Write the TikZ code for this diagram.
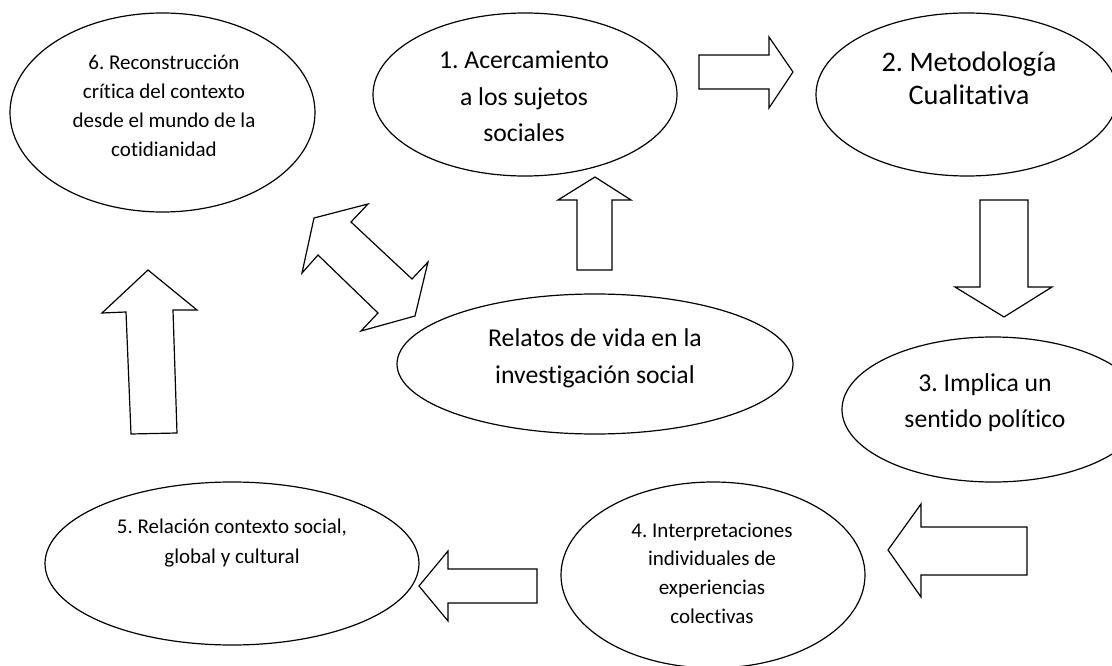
\documentclass[tikz,border=0pt]{standalone}
\usepackage{fontspec}
\setmainfont{Carlito}[Ligatures=NoCommon]
\usetikzlibrary{shapes.geometric}
\frenchspacing
\newcommand{\lines}[1]{\begin{tabular}[t]{@{}c@{}}#1\end{tabular}}
\begin{document}
\begin{tikzpicture}[x=1pt,y=-1pt,
  bubble/.style={draw, ellipse, line width=1.2pt, inner sep=0pt, outer sep=0pt},
  blockarrow/.style={draw, line width=1.2pt, line join=miter, fill=white},
  smalltxt/.style={anchor=base, inner sep=0pt, font=\fontsize{21}{29}\selectfont},
  bigtxt/.style={anchor=base, inner sep=0pt, font=\fontsize{25.7}{36.5}\selectfont},
  hugetxt/.style={anchor=base, inner sep=0pt, font=\fontsize{28.3}{33}\selectfont}]
\clip (0,0) rectangle (1112,666);
\fill[white] (0,0) rectangle (1112,666);

% ellipses
\node[bubble, minimum width=305pt, minimum height=199pt] (e6) at (162.5,112.5) {};
\node[bubble, minimum width=304pt, minimum height=163pt] (e1) at (525,94.5) {};
\node[bubble, minimum width=302pt, minimum height=163pt] (e2) at (967,94.5) {};
\node[bubble, minimum width=302pt, minimum height=145pt] (e3) at (993,409.5) {};
\node[bubble, minimum width=396pt, minimum height=140pt] (er) at (595,364) {};
\node[bubble, minimum width=304pt, minimum height=186pt] (e4) at (713,575) {};
\node[bubble, minimum width=374pt, minimum height=163pt] (e5) at (232,563.5) {};

% texts
\node[smalltxt] (t6) at (164,70) {\lines{6. Reconstrucción\\crítica del contexto\\desde el mundo de la\\cotidianidad}};
\node[bigtxt] (t1) at (524,69) {\lines{1. Acercamiento\\a los sujetos\\sociales}};
\node[hugetxt] (t2) at (969,72) {\lines{2. Metodología\\Cualitativa}};
\node[bigtxt, font=\fontsize{25.7}{36}\selectfont] (t3) at (985,391) {\lines{3. Implica un\\sentido político}};
\node[bigtxt, font=\fontsize{25.7}{37}\selectfont] (tr) at (595,346) {\lines{Relatos de vida en la\\investigación social}};
\node[smalltxt, font=\fontsize{21}{28.7}\selectfont] (t4) at (712,537) {\lines{4. Interpretaciones\\individuales de\\experiencias\\colectivas}};
\node[smalltxt, font=\fontsize{21}{30}\selectfont] (t5) at (232,533) {\lines{5. Relación contexto social,\\global y cultural}};

% block arrows
\draw[blockarrow] (699,55) -- (769,55) -- (769,37) -- (793,72) -- (769,108) -- (769,89) -- (699,89) -- cycle;
\draw[blockarrow] (980,200) -- (1028,200) -- (1028,287) -- (1052,287) -- (1004,317) -- (955,287) -- (980,287) -- cycle;
\draw[blockarrow] (1027,527) -- (921,527) -- (921,504) -- (888,550) -- (921,597) -- (921,575) -- (1027,575) -- cycle;
\draw[blockarrow] (537,569) -- (448,569) -- (448,551) -- (419,586) -- (448,621) -- (448,603) -- (537,603) -- cycle;
\draw[blockarrow] (131,434) -- (126,312) -- (102,313) -- (148,270) -- (197,310) -- (173,310) -- (177,433) -- cycle;
\draw[blockarrow] (577,270) -- (577,200) -- (558,200) -- (595,177) -- (631,200) -- (612,200) -- (612,270) -- cycle;
\draw[blockarrow] (314,218) -- (368,204) -- (351,222) -- (412,279) -- (428,262) -- (415,316) -- (361,331) -- (378,313) -- (318,255) -- (302,273) -- cycle;
\end{tikzpicture}
\end{document}
